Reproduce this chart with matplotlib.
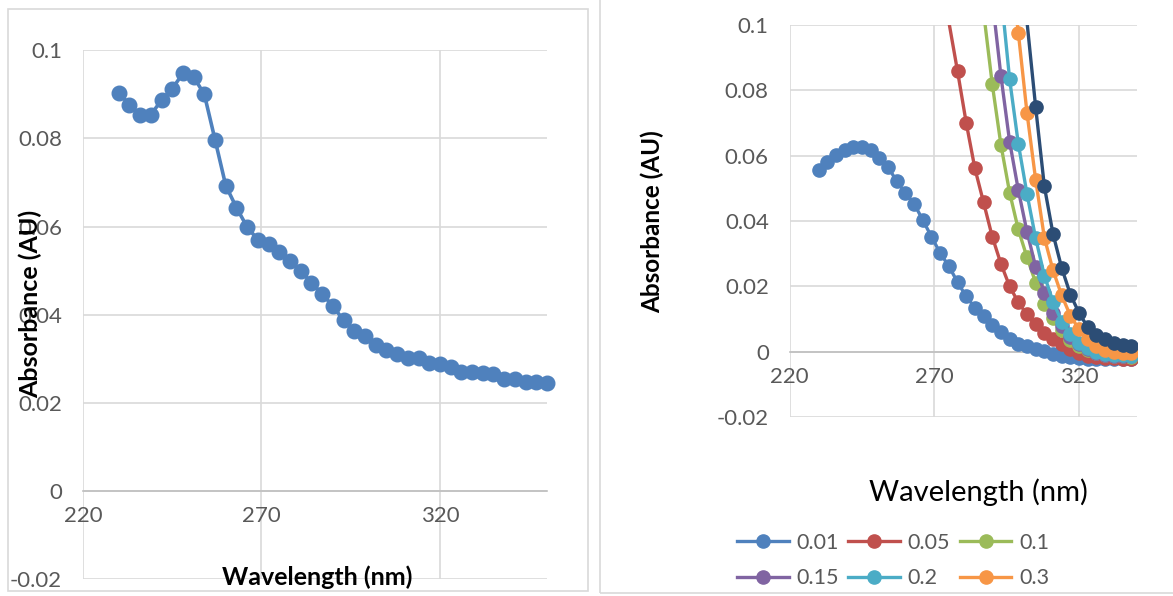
import matplotlib
matplotlib.use('Agg')
import matplotlib.pyplot as plt
from matplotlib.lines import Line2D
from matplotlib.patches import Rectangle

plt.rcParams['font.family'] = ['Lato', 'DejaVu Sans']

# ---- left panel: single spectrum (3 nm steps)
wl_left = [230, 233, 236, 239, 242, 245, 248, 251, 254, 257, 260, 263, 266, 269,
           272, 275, 278, 281, 284, 287, 290, 293, 296, 299, 302, 305, 308, 311,
           314, 317, 320, 323, 326, 329, 332, 335, 338, 341, 344, 347, 350]
abs_left = [0.0904, 0.0877, 0.0854, 0.0854, 0.0887, 0.0913, 0.0948, 0.0940, 0.0900,
            0.0797, 0.0693, 0.0643, 0.0599, 0.0570, 0.0560, 0.0543, 0.0523, 0.0499,
            0.0473, 0.0447, 0.0420, 0.0387, 0.0364, 0.0351, 0.0331, 0.0320, 0.0310,
            0.0302, 0.0302, 0.0291, 0.0288, 0.0281, 0.0271, 0.0271, 0.0268, 0.0265,
            0.0255, 0.0255, 0.0248, 0.0248, 0.0244]

# ---- right panel: concentration series, all of them end at 338 nm
wl_right = [230, 233, 236, 239, 242, 245, 248, 251, 254, 257, 260, 263, 266, 269,
            272, 275, 278, 281, 284, 287, 290, 293, 296, 299, 302, 305, 308, 311,
            314, 317, 320, 323, 326, 329, 332, 335, 338]
abs_001 = [0.0556, 0.0580, 0.0601, 0.0616, 0.0628, 0.0626, 0.0616, 0.0592, 0.0565,
           0.0522, 0.0485, 0.0453, 0.0403, 0.0352, 0.0302, 0.0262, 0.0213, 0.0169,
           0.0135, 0.0110, 0.0083, 0.0060, 0.0038, 0.0025, 0.0016, 0.0008, 0.0001,
           -0.0007, -0.0013, -0.0017, -0.0020, -0.0021, -0.0022, -0.0022, -0.0022,
           -0.0022, -0.0022]
# the first value of each of these is above the 0.1 axis limit (line only)
abs_005 = [0.101, 0.0859, 0.0701, 0.0561, 0.0457, 0.0352, 0.0269, 0.0200, 0.0151,
           0.0114, 0.0084, 0.0058, 0.0040, 0.0022, 0.0008, -0.0004, -0.0012, -0.0017,
           -0.0019, -0.0020, -0.0021, -0.0021]
abs_01 = [0.104, 0.0819, 0.0633, 0.0487, 0.0374, 0.0289, 0.0211, 0.0146, 0.0102,
          0.0065, 0.0036, 0.0016, 0.0004, -0.0004, -0.0009, -0.0012, -0.0014, -0.0015]
abs_015 = [0.108, 0.0844, 0.0643, 0.0495, 0.0367, 0.0260, 0.0181, 0.0119, 0.0078,
           0.0046, 0.0022, 0.0007, -0.0003, -0.0009, -0.0012, -0.0013, -0.0014]
abs_02 = [0.110, 0.0834, 0.0637, 0.0483, 0.0347, 0.0233, 0.0153, 0.0092, 0.0055,
          0.0028, 0.0010, 0.0000, -0.0006, -0.0009, -0.0011, -0.0012]
abs_03 = [0.120, 0.0977, 0.0731, 0.0526, 0.0349, 0.0249, 0.0172, 0.0110, 0.0068,
          0.0038, 0.0018, 0.0006, 0.0000, -0.0003, -0.0005]
abs_05 = [0.101, 0.0748, 0.0506, 0.0360, 0.0256, 0.0175, 0.0118, 0.0075, 0.0051,
          0.0038, 0.0028, 0.0021, 0.0017]

series_right = [abs_001, abs_005, abs_01, abs_015, abs_02, abs_03, abs_05]
labels_right = ['0.01', '0.05', '0.1', '0.15', '0.2', '0.3', '0.5']
colors_right = ['#4F81BD', '#C0504D', '#9BBB59', '#8064A2', '#4BACC6', '#F79646', '#2C4D75']

x_ticks = [220, 270, 320]
y_ticks = [-0.02, 0, 0.02, 0.04, 0.06, 0.08, 0.1]
y_ticklabels = ['-0.02', '0', '0.02', '0.04', '0.06', '0.08', '0.1']

W, H = 1173, 596
TICK_GRAY = '#595959'
GRID_GRAY = '#D9D9D9'


def px_rect(x0, y0, x1, y1):
    return [x0 / W, 1 - y1 / H, (x1 - x0) / W, (y1 - y0) / H]


def style_axes(ax, xmax):
    ax.set_xlim(220, xmax)
    ax.set_ylim(-0.02, 0.1)
    ax.set_xticks(x_ticks, [str(t) for t in x_ticks])
    ax.set_yticks(y_ticks, y_ticklabels)
    for s in ['top', 'right', 'left']:
        ax.spines[s].set_visible(False)
    ax.spines['bottom'].set_position(('data', 0))
    ax.spines['bottom'].set_color('#BFBFBF')
    ax.spines['bottom'].set_linewidth(1.2)
    ax.grid(True, color=GRID_GRAY, lw=1.2)
    ax.set_axisbelow(True)
    ax.tick_params(length=0, labelsize=16, labelcolor=TICK_GRAY)
    ax.tick_params(axis='x', pad=11)
    ax.tick_params(axis='y', pad=15)


fig = plt.figure(figsize=(W / 100, H / 100), dpi=100)

# chart area borders
fig.patches.append(Rectangle((8 / W, 1 - 591 / H), 580 / W, 582 / H, transform=fig.transFigure,
                             fill=False, edgecolor=GRID_GRAY, lw=1.2))
fig.patches.append(Rectangle((600 / W, 1 - 593 / H), 600 / W, 620 / H, transform=fig.transFigure,
                             fill=False, edgecolor=GRID_GRAY, lw=1.2))

# left chart
ax1 = fig.add_axes(px_rect(83, 50.4, 547, 579))
style_axes(ax1, 350)
ax1.plot(wl_left, abs_left, color='#4F81BD', lw=2.6, marker='o', ms=10.5,
         mec='#4F81BD', clip_on=False, zorder=3)
fig.text(30 / W, 1 - 304 / H, 'Absorbance (AU)', rotation=90, ha='center', va='center',
         fontsize=18, fontweight='bold', color='black')
fig.text(317 / W, 1 - 577 / H, 'Wavelength (nm)', ha='center', va='center',
         fontsize=18, fontweight='bold', color='black')

# right chart
ax2 = fig.add_axes(px_rect(789.6, 25, 1137, 417))
style_axes(ax2, 340)
handles = []
for vals, lab, c in zip(series_right, labels_right, colors_right):
    xs = wl_right[-len(vals):]
    ax2.plot(xs, vals, color=c, lw=2.4, zorder=3)
    # Excel drops markers whose point lies outside the axis range
    xin = [x for x, v in zip(xs, vals) if v <= 0.1]
    vin = [v for v in vals if v <= 0.1]
    ax2.plot(xin, vin, ls='none', marker='o', ms=9.5, color=c, mec=c, zorder=3)
    handles.append(Line2D([], [], color=c, lw=2.4, marker='o', ms=9.5, mec=c))

fig.text(652 / W, 1 - 222 / H, 'Absorbance (AU)', rotation=90, ha='center', va='center',
         fontsize=17.5, fontweight='bold', color='black')
fig.text(978 / W, 1 - 492 / H, 'Wavelength (nm)', ha='center', va='center',
         fontsize=21, color='black')

# legend, row-major order: 0.01 0.05 0.1 / 0.15 0.2 0.3 (7th row falls below the picture)
order = [0, 3, 1, 4, 2, 5]
leg = fig.legend([handles[i] for i in order], [labels_right[i] for i in order], ncol=3,
                 loc='upper left', bbox_to_anchor=(737 / W, 1 - 533 / H), frameon=False,
                 fontsize=15.5, handlelength=2.4, handletextpad=0.35, columnspacing=0.45,
                 labelspacing=0.72, borderpad=0, borderaxespad=0)
for t in leg.get_texts():
    t.set_color(TICK_GRAY)

fig.savefig('out.png', dpi=100)
